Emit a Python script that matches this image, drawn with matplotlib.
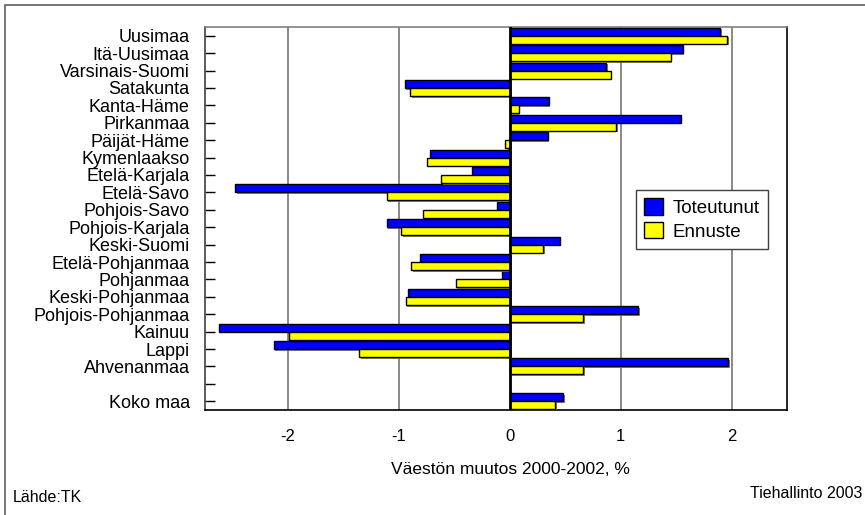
import numpy as np
import matplotlib
matplotlib.use('Agg')
from matplotlib import pyplot as plt
from matplotlib import patheffects as pe
from matplotlib.patches import Patch, Rectangle

plt.rcParams['font.family'] = ['Liberation Sans', 'DejaVu Sans']

regions = ['Uusimaa', 'Itä-Uusimaa', 'Varsinais-Suomi', 'Satakunta', 'Kanta-Häme',
           'Pirkanmaa', 'Päijät-Häme', 'Kymenlaakso', 'Etelä-Karjala', 'Etelä-Savo',
           'Pohjois-Savo', 'Pohjois-Karjala', 'Keski-Suomi', 'Etelä-Pohjanmaa',
           'Pohjanmaa', 'Keski-Pohjanmaa', 'Pohjois-Pohjanmaa', 'Kainuu', 'Lappi',
           'Ahvenanmaa', '', 'Koko maa']
toteutunut = [1.90, 1.56, 0.87, -0.95, 0.35, 1.54, 0.34, -0.72, -0.34, -2.48,
              -0.12, -1.11, 0.45, -0.81, -0.07, -0.92, 1.16, -2.62, -2.13, 1.97,
              np.nan, 0.48]
ennuste = [1.96, 1.45, 0.91, -0.90, 0.08, 0.96, -0.04, -0.75, -0.62, -1.11,
           -0.78, -0.98, 0.30, -0.89, -0.49, -0.94, 0.66, -1.99, -1.36, 0.66,
           np.nan, 0.41]
xticks = [-2, -1, 0, 1, 2]

fig = plt.figure(figsize=(8.65, 5.15), dpi=100)
ax = fig.add_axes([205/865, 1-410/515, 582/865, 383/515])

y = np.arange(len(regions))
h = 0.46
shadow = [pe.SimplePatchShadow(offset=(1.2, -1.2), shadow_rgbFace='#777777', alpha=0.9), pe.Normal()]
b1 = ax.barh(y - h/2, toteutunut, height=h, color='#0000ff', edgecolor='black', lw=1, zorder=3)
b2 = ax.barh(y + h/2, ennuste, height=h, color='#ffff00', edgecolor='black', lw=1, zorder=3)
for b in list(b1) + list(b2):
    b.set_path_effects(shadow)

ax.set_ylim(len(regions) - 0.5, -0.5)
ax.set_xlim(-2.75, 2.5)
ax.set_yticks(y)
ax.set_yticklabels(regions, fontsize=13)
ax.set_xticks(xticks)
ax.set_xticklabels([str(v) for v in xticks], fontsize=12)
ax.tick_params(axis='y', direction='in', length=7, width=1, pad=11)
ax.tick_params(axis='x', length=0, pad=14)
ax.set_xlabel('Väestön muutos 2000-2002, %', fontsize=12.5)
ax.xaxis.set_label_coords((510 - 205) / 582, -0.135)

for v in xticks:
    if v != 0:
        ax.axvline(v, color='#808080', lw=1.3, zorder=1)
ax.axvline(0, color='black', lw=2, zorder=4)

ax.spines['top'].set_color('#808080')
ax.spines['left'].set_color('#404040')
for s in ax.spines.values():
    s.set_linewidth(1.2)

leg = ax.legend([Patch(facecolor='#0000ff', edgecolor='black'),
                 Patch(facecolor='#ffff00', edgecolor='black')],
                ['Toteutunut', 'Ennuste'], loc='upper left',
                bbox_to_anchor=(0.74, 0.575), borderaxespad=0, fontsize=13.5,
                fancybox=False, framealpha=1, handlelength=1.0, handleheight=1.0,
                handletextpad=0.5, borderpad=0.45, labelspacing=0.25)
leg.get_frame().set_edgecolor('#404040')
leg.get_frame().set_linewidth(1)

fig.patches.append(Rectangle((5/865, -0.1), 1.2, 1.1 - 5/515, transform=fig.transFigure,
                             fill=False, edgecolor='#606060', lw=1.2))
fig.text(13/865, 1-497/515, 'Lähde:TK', fontsize=11.5, va='center', ha='left')
fig.text(862/865, 1-493/515, 'Tiehallinto 2003', fontsize=11.5, va='center', ha='right')

fig.savefig('out.png', dpi=100)
